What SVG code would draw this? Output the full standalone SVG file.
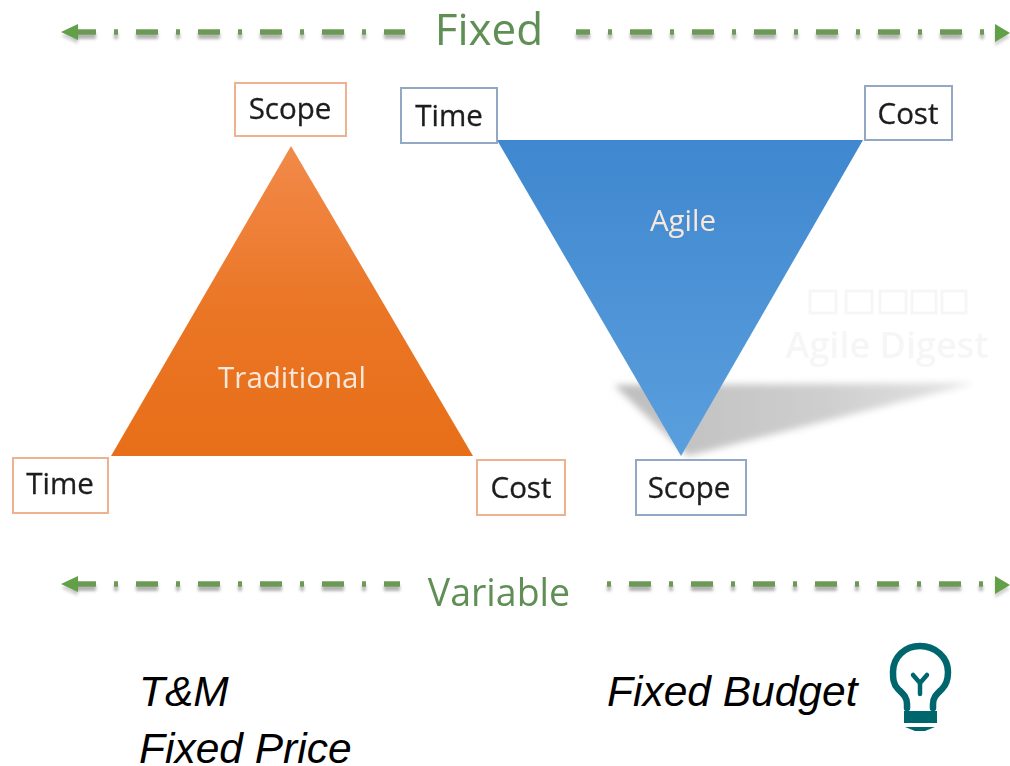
<svg xmlns="http://www.w3.org/2000/svg" width="1010" height="766" viewBox="0 0 1010 766">
<style>
.lbl{font-family:"Open Sans","Noto Sans",sans-serif;font-size:29.5px;fill:#1c1c1c;stroke:#1c1c1c;stroke-width:.3;text-anchor:middle}
.tri{font-family:"Open Sans","Noto Sans",sans-serif;font-size:29.5px;fill:#f8e8dc;text-anchor:middle}
.hdr{font-family:"Open Sans","Noto Sans",sans-serif;fill:#5f8f55;text-anchor:middle}
.note{font-family:"Liberation Sans",Arial,sans-serif;font-size:42.5px;font-style:italic;fill:#000}
.o{fill:#fff;stroke:#eeb291;stroke-width:2}
.b{fill:#fff;stroke:#93a8c4;stroke-width:2}
.dash{fill:none;stroke:#6c9a57;stroke-width:5.5;stroke-dasharray:22 18 4 18}
.shade{fill:none;stroke:#808080;stroke-width:6;stroke-dasharray:22 18 4 18;opacity:.6}
.head{fill:#62a047}
.headS{fill:#999;opacity:.45}
.bulb{fill:none;stroke:#00666e;stroke-width:6.5;stroke-linecap:round;stroke-linejoin:round}
</style>
<defs>
<linearGradient id="og" x1="0" y1="0" x2="0" y2="1"><stop offset="0" stop-color="#f28a4a"/><stop offset=".55" stop-color="#ea7524"/><stop offset="1" stop-color="#e86f19"/></linearGradient>
<linearGradient id="bg" x1="0" y1="0" x2="0" y2="1"><stop offset="0" stop-color="#3f87cf"/><stop offset="1" stop-color="#5a9fdd"/></linearGradient>
<linearGradient id="sg" x1="0" y1="0" x2="1" y2="0"><stop offset="0" stop-color="#bdbdbd"/><stop offset=".6" stop-color="#cfcfcf"/><stop offset="1" stop-color="#e4e4e4"/></linearGradient>
<filter id="soft" filterUnits="userSpaceOnUse" x="0" y="0" width="1010" height="766"><feGaussianBlur stdDeviation="1.5"/></filter>
<filter id="soft2" x="-10%" y="-30%" width="120%" height="160%"><feGaussianBlur stdDeviation="3.5"/></filter>
<filter id="t" filterUnits="userSpaceOnUse" x="0" y="0" width="1010" height="766"><feGaussianBlur stdDeviation=".5"/></filter>
</defs>
<rect width="1010" height="766" fill="#fff"/>
<g id="watermark" opacity=".5">
<g fill="none" stroke="#eee" stroke-width="3"><rect x="810" y="291" width="26" height="22"/><rect x="846" y="291" width="26" height="22"/><rect x="880" y="291" width="26" height="22"/><rect x="912" y="291" width="24" height="22"/><rect x="942" y="291" width="24" height="22"/></g>
<text x="887" y="358" font-family="Open Sans,sans-serif" font-size="36" font-weight="600" fill="#eee" text-anchor="middle">Agile Digest</text>
</g>
<polygon id="cast-shadow" points="614,385 975,383 688,456" fill="url(#sg)" filter="url(#soft2)"/>
<g id="connectors">
<g filter="url(#soft)">
<path class="shade" d="M74 36H405"/><path class="shade" d="M576 36H984" stroke-dashoffset="8"/><path class="shade" d="M74 588H400"/><path class="shade" d="M607 588H984" stroke-dashoffset="40"/>
<polygon class="headS" points="61,36 78,28 78,44"/><polygon class="headS" points="1010,37 995,28 995,46"/>
<polygon class="headS" points="61,588 78,580 78,596"/><polygon class="headS" points="1010,589 995,580 995,598"/>
</g>
<g filter="url(#t)">
<path class="dash" d="M74 32H405"/>
<path class="dash" d="M576 32H984" stroke-dashoffset="8"/>
<path class="dash" d="M74 584H400"/>
<path class="dash" d="M607 584H984" stroke-dashoffset="40"/>
<polygon class="head" points="61,32 78,24 78,40"/><polygon class="head" points="1010,33 995,24 995,42"/>
<polygon class="head" points="61,584 78,576 78,592"/><polygon class="head" points="1010,585 995,576 995,594"/>
</g>
</g>
<g id="fixed" filter="url(#t)"><text class="hdr" x="489" y="45" font-size="44">Fixed</text></g>
<g id="variable" filter="url(#t)"><text class="hdr" x="499" y="606" font-size="37.5">Variable</text></g>
<g id="traditional"><polygon points="291,146 473,456 111,456" fill="url(#og)"/><text class="tri" x="292" y="388" filter="url(#t)">Traditional</text></g>
<g id="agile"><polygon points="497,140 863,140 681,456" fill="url(#bg)"/><text class="tri" x="683" y="231" filter="url(#t)">Agile</text></g>
<g id="scope-top"><rect class="o" x="235" y="83" width="111" height="53"/><text class="lbl" x="290" y="119" filter="url(#t)">Scope</text></g>
<g id="time-top"><rect class="b" x="401" y="88" width="96" height="55"/><text class="lbl" x="449" y="126" filter="url(#t)">Time</text></g>
<g id="cost-top"><rect class="b" x="865" y="86" width="87" height="54"/><text class="lbl" x="908" y="124" filter="url(#t)">Cost</text></g>
<g id="time-left"><rect class="o" x="13" y="458" width="95" height="55"/><text class="lbl" x="60" y="494" filter="url(#t)">Time</text></g>
<g id="cost-mid"><rect class="o" x="477" y="460" width="88" height="55"/><text class="lbl" x="521" y="498" filter="url(#t)">Cost</text></g>
<g id="scope-bottom"><rect class="b" x="636" y="460" width="110" height="55"/><text class="lbl" x="689" y="498" filter="url(#t)">Scope</text></g>
<g id="notes">
<text class="note" x="139" y="706">T&amp;M</text>
<text class="note" x="139" y="763">Fixed Price</text>
<text class="note" x="607" y="706">Fixed Budget</text>
</g>
<g id="bulb">
<path class="bulb" d="M907 708V704C907 697 903 694 898 689C893 684 893 678 893 672C893 657 905 646 920 646C935 646 948 657 948 672C948 678 947 684 942 689C937 694 933 697 933 704V708"/>
<path class="bulb" style="stroke-width:4.5" d="M913 675L920 683L927 675M920 683V694"/>
<rect x="904" y="711" width="33" height="12" fill="#00666e"/>
<polygon points="905,727 935,727 925,731 915,731" fill="#00666e"/>
</g>
</svg>
